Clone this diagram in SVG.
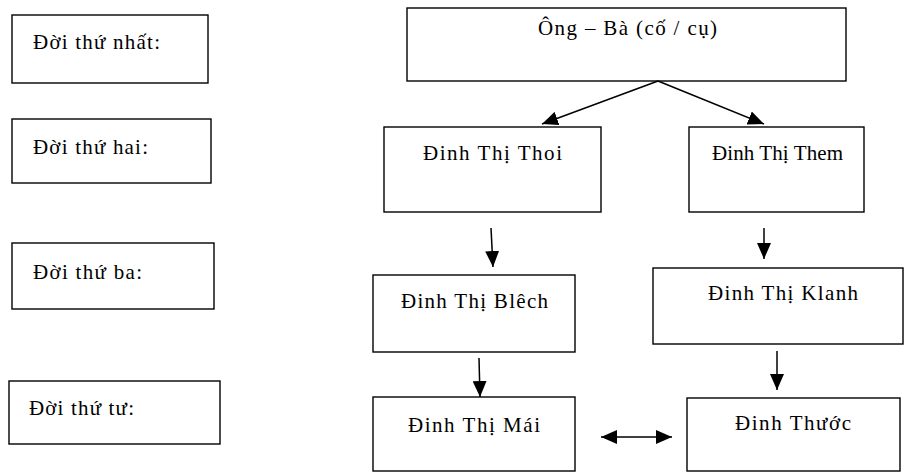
<svg xmlns="http://www.w3.org/2000/svg" width="905" height="472" viewBox="0 0 905 472">
<defs>
<style>
.box{fill:#fff;stroke:#000;stroke-width:1.4}
.c{stroke:#000;stroke-width:1.5;fill:none}
text{font-family:"Liberation Serif","Times New Roman",serif;font-size:21px;fill:#000}
</style>
<marker id="ah" viewBox="0 0 16 14" refX="16" refY="7" markerWidth="16" markerHeight="14" markerUnits="userSpaceOnUse" orient="auto-start-reverse">
<path d="M0,0 L16,7 L0,14 Z" fill="#000"/>
</marker>
</defs>
<rect width="905" height="472" fill="#fff"/>
<g id="gen1"><rect class="box" x="12" y="15" width="196" height="68"/><text x="33" y="49" textLength="127" lengthAdjust="spacing">Đời thứ nhất:</text></g>
<g id="gen2"><rect class="box" x="12" y="119" width="199" height="64"/><text x="33" y="154" textLength="115" lengthAdjust="spacing">Đời thứ hai:</text></g>
<g id="gen3"><rect class="box" x="12" y="243" width="202" height="66"/><text x="33" y="279" textLength="109" lengthAdjust="spacing">Đời thứ ba:</text></g>
<g id="gen4"><rect class="box" x="9" y="381" width="211" height="63"/><text x="29" y="415" textLength="105" lengthAdjust="spacing">Đời thứ tư:</text></g>
<g id="ongba"><rect class="box" x="407" y="8" width="439" height="73"/><text x="538" y="35" textLength="179" lengthAdjust="spacing">Ông – Bà (cố / cụ)</text></g>
<g id="thoi"><rect class="box" x="384" y="127" width="217" height="85"/><text x="423" y="160" textLength="139" lengthAdjust="spacing">Đinh Thị Thoi</text></g>
<g id="them"><rect class="box" x="689" y="127" width="175" height="85"/><text x="712" y="160" textLength="131" lengthAdjust="spacing">Đinh Thị Them</text></g>
<g id="blech"><rect class="box" x="373" y="275" width="202" height="77"/><text x="401" y="308" textLength="147" lengthAdjust="spacing">Đinh Thị Blêch</text></g>
<g id="klanh"><rect class="box" x="653" y="268" width="250" height="76"/><text x="708" y="300" textLength="150" lengthAdjust="spacing">Đinh Thị Klanh</text></g>
<g id="mai"><rect class="box" x="373" y="397" width="202" height="74"/><text x="408" y="432" textLength="132" lengthAdjust="spacing">Đinh Thị Mái</text></g>
<g id="thuoc"><rect class="box" x="687" y="398" width="213" height="73"/><text x="735" y="430" textLength="116" lengthAdjust="spacing">Đinh Thước</text></g>
<g id="connectors">
<line class="c" x1="658" y1="81" x2="542" y2="124" marker-end="url(#ah)"/>
<line class="c" x1="658" y1="81" x2="764" y2="124" marker-end="url(#ah)"/>
<line class="c" x1="491" y1="228" x2="493" y2="267" marker-end="url(#ah)"/>
<line class="c" x1="764" y1="228" x2="764" y2="259" marker-end="url(#ah)"/>
<line class="c" x1="479" y1="358" x2="480" y2="397" marker-end="url(#ah)"/>
<line class="c" x1="777" y1="351" x2="777" y2="390" marker-end="url(#ah)"/>
<line class="c" x1="601" y1="437" x2="672" y2="437" marker-start="url(#ah)" marker-end="url(#ah)"/>
</g>
</svg>
